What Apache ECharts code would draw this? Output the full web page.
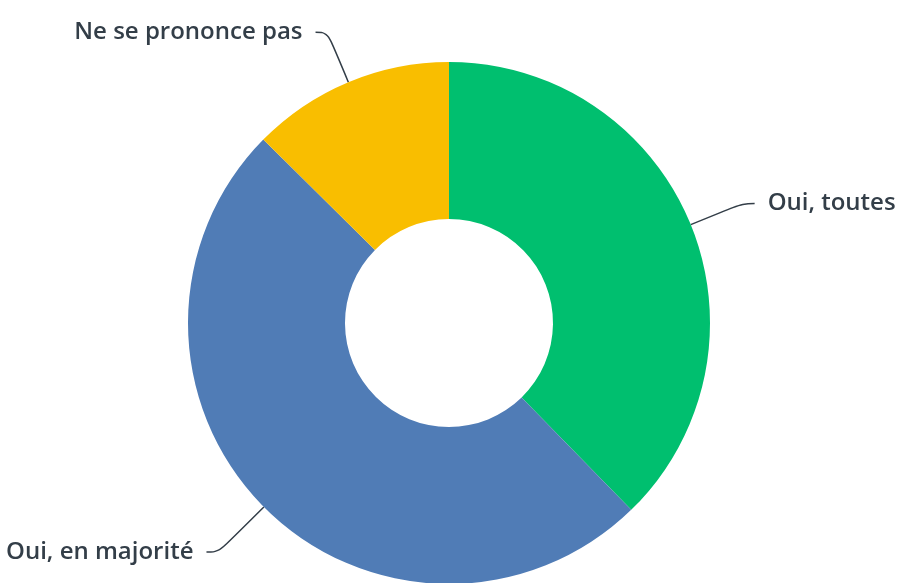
<!DOCTYPE html>
<html>
<head>
<meta charset="utf-8">
<script src="https://cdn.jsdelivr.net/npm/echarts@6/dist/echarts.min.js"></script>
<style>
  html, body { margin: 0; padding: 0; background: #fff; }
  #chart { width: 903px; height: 583px; }
</style>
</head>
<body>
<div id="chart"></div>
<script>
// réponses et parts (%)
const categories = ['Oui, toutes', 'Oui, en majorité', 'Ne se prononce pas'];
const values = [37.7, 49.7, 12.6];
const colors = ['#00bf6f', '#507cb6', '#f9be00'];
const lineLengths = [56, 64, 54];

const chart = echarts.init(document.getElementById('chart'));
chart.setOption({
  animation: false,
  series: [
    {
      type: 'pie',
      center: [449, 323],
      radius: [104, 261],
      startAngle: 90,
      clockwise: true,
      avoidLabelOverlap: false,
      data: categories.map((name, i) => ({
        name: name,
        value: values[i],
        itemStyle: { color: colors[i] },
        labelLine: { length: lineLengths[i] }
      })),
      label: {
        show: true,
        position: 'outside',
        formatter: '{b}',
        color: '#333e48',
        fontFamily: 'Open Sans',
        fontWeight: 600,
        fontSize: 24,
        distanceToLabelLine: 13
      },
      labelLine: {
        show: true,
        length2: 12,
        smooth: 0.4,
        lineStyle: { color: '#333e48', width: 1.5 }
      }
    }
  ]
});
</script>
</body>
</html>
